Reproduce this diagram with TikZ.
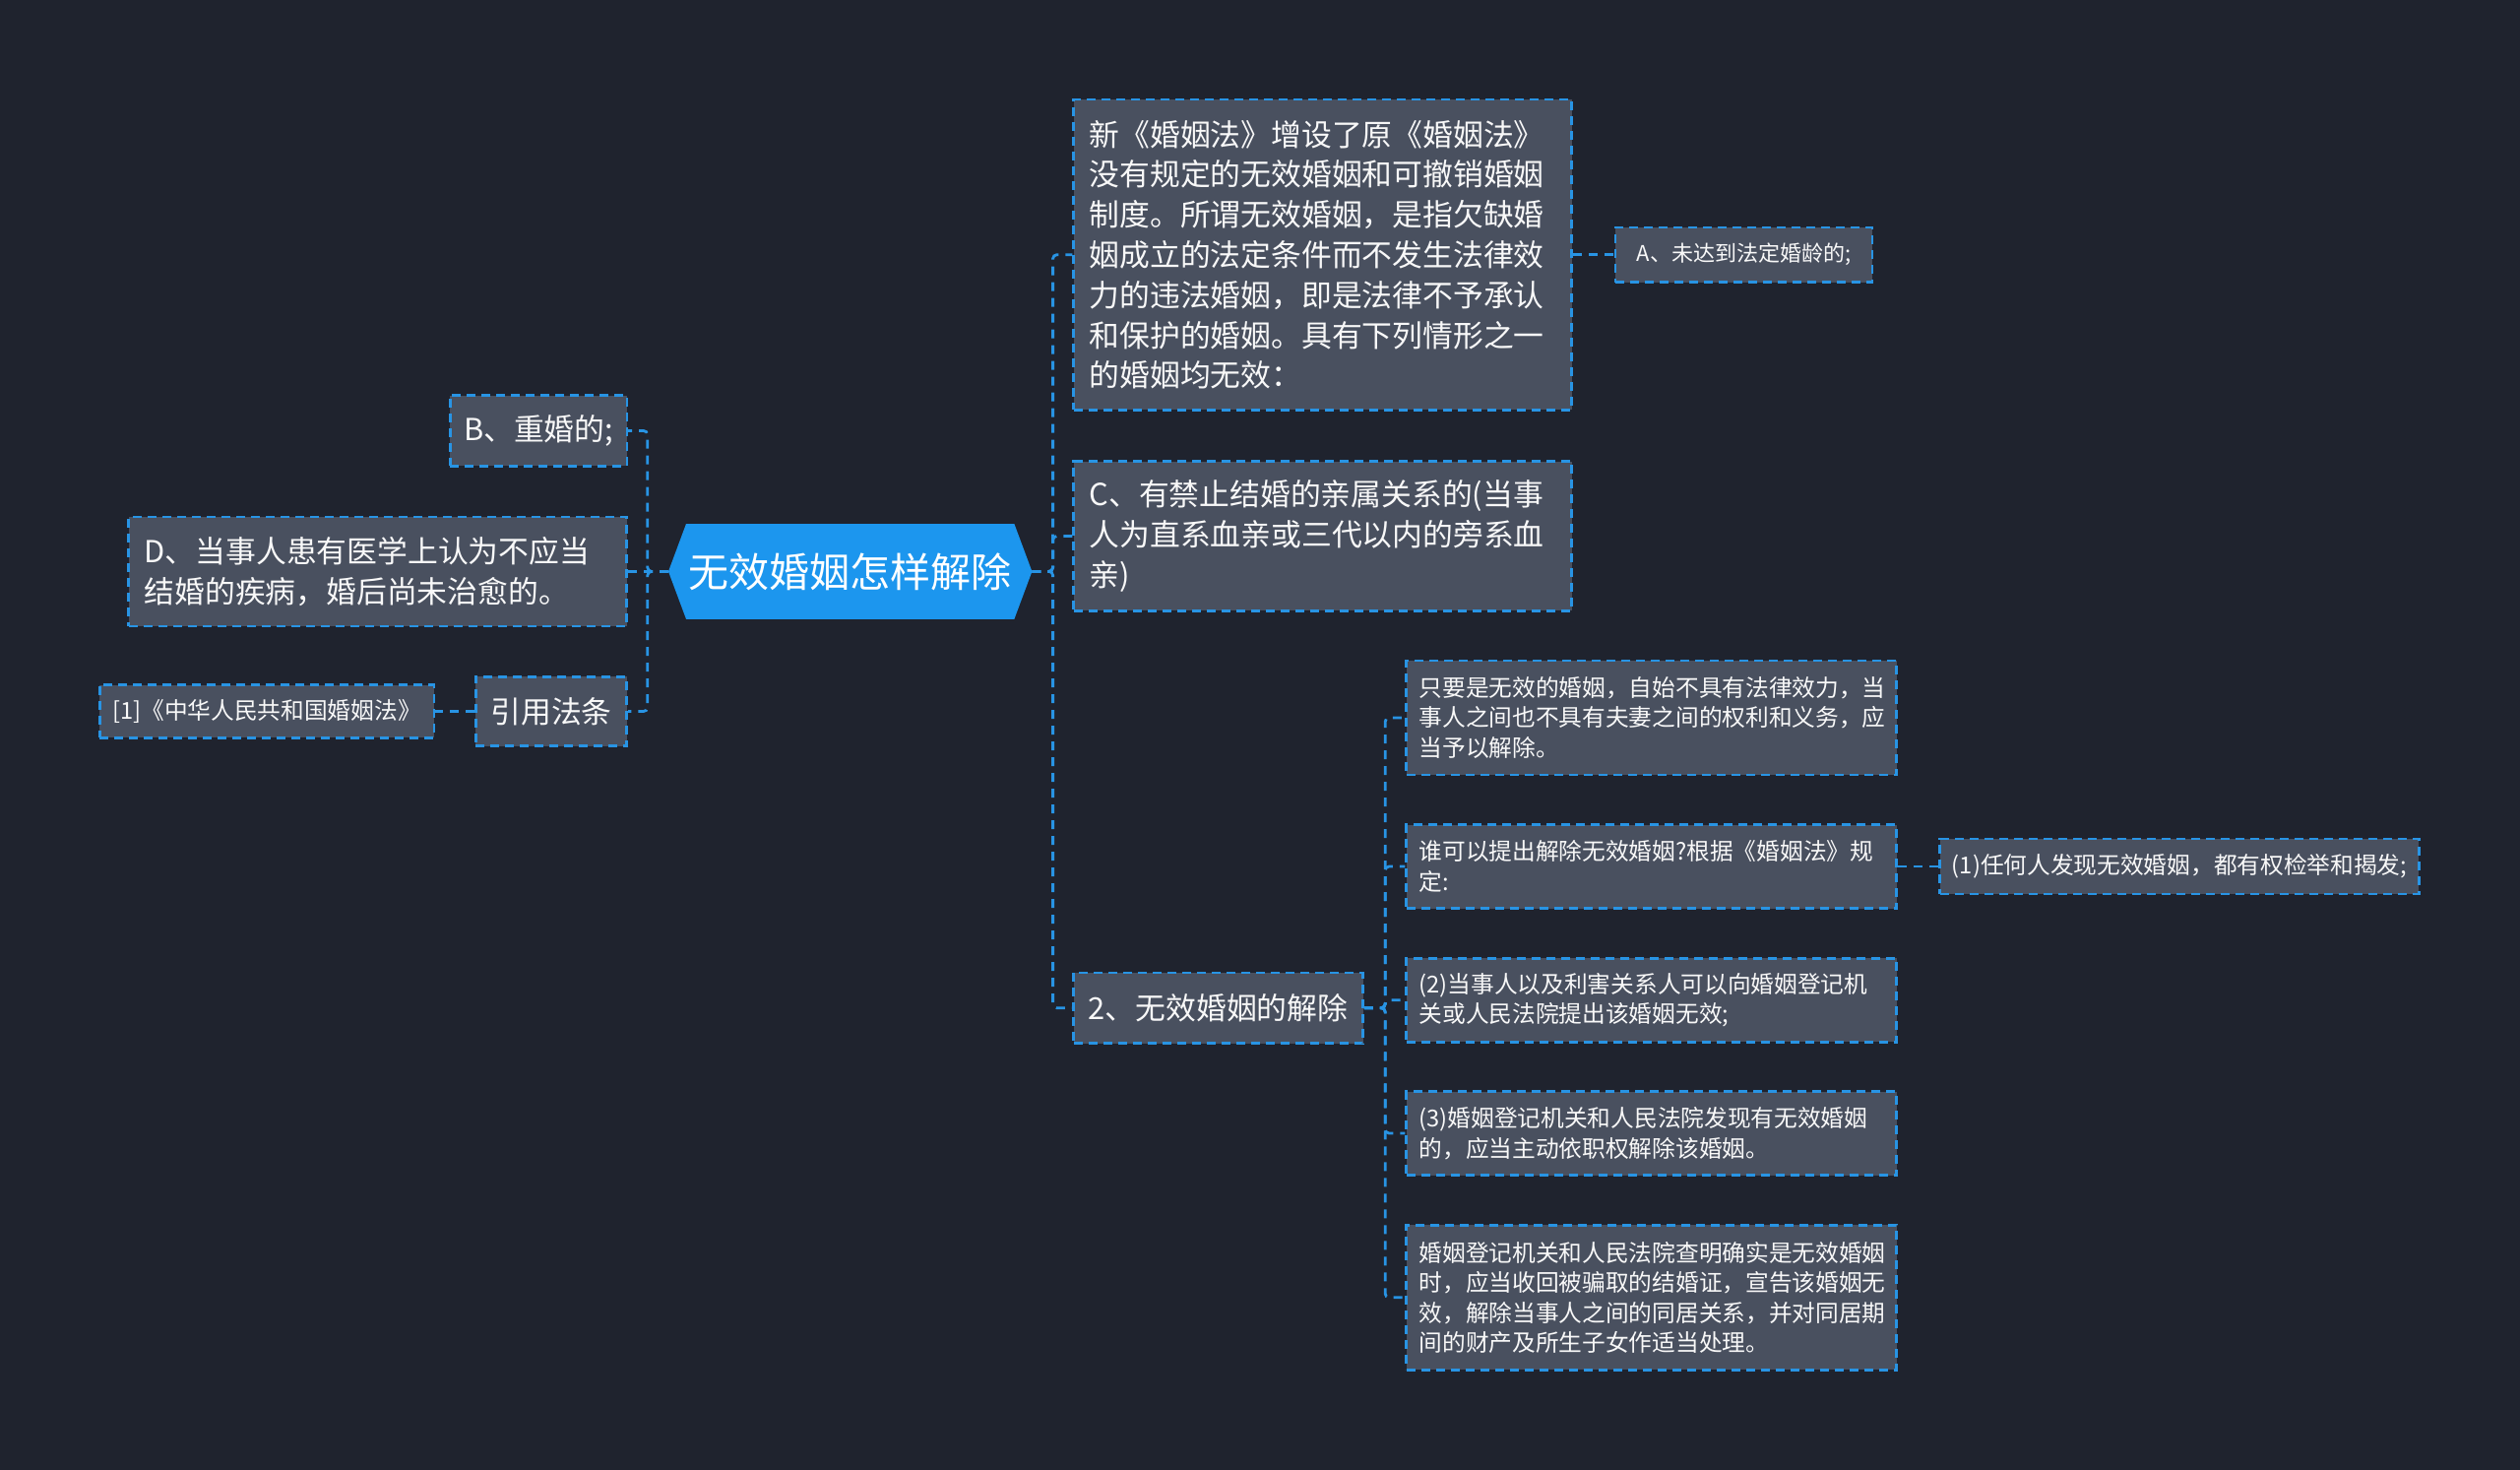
\documentclass[tikz,border=0pt]{standalone}
\usepackage{fontspec}
\setmainfont{Noto Sans CJK SC}
\definecolor{bgc}{RGB}{31,35,46}
\definecolor{boxc}{RGB}{73,80,95}
\definecolor{linec}{RGB}{40,148,228}
\definecolor{rootc}{RGB}{28,150,238}
\definecolor{txtc}{RGB}{248,248,248}
\pgfdeclarelayer{canvas}
\pgfdeclarelayer{hexlayer}
\pgfsetlayers{canvas,hexlayer,main}
\tikzset{
  conn/.style={draw=linec, line width=2.8pt, dash pattern=on 9pt off 7pt, rounded corners=4pt},
  boxn/.style={draw=linec, fill=boxc, line width=2.6pt, dash pattern=on 9pt off 6pt, text=txtc, inner ysep=0pt, anchor=center},
  multi/.style={align=left},
  single/.style={align=center, inner xsep=0pt},
  big/.style={font=\fontsize{30.8}{40.8}\selectfont},
  small/.style={font=\fontsize{23.7}{30.5}\selectfont},
  tiny/.style={font=\fontsize{22}{28}\selectfont},
  rootn/.style={text=white, font=\fontsize{41}{48}\selectfont, inner sep=0pt, minimum width=369pt, minimum height=96.3pt},
}
\begin{document}
\begin{tikzpicture}[x=1pt, y=-1pt]
\begin{pgfonlayer}{canvas}
  \fill[bgc] (0,0) rectangle (2560,1493);
\end{pgfonlayer}
\useasboundingbox (0,0) rectangle (2560,1493);

% root
\node[rootn] (root) at (863.7,580.4) {无效婚姻怎样解除};
\begin{pgfonlayer}{hexlayer}
  \fill[rootc] ([xshift=18pt]root.north west) -- ([xshift=-18pt]root.north east) -- (root.east)
    -- ([xshift=-18pt]root.south east) -- ([xshift=18pt]root.south west) -- (root.west) -- cycle;
\end{pgfonlayer}

% right side
\node[boxn, multi, big, text width=474pt, inner xsep=16pt, minimum height=315.3pt] (top) at (1343.7,258.7)
 {新《婚姻法》增设了原《婚姻法》\\没有规定的无效婚姻和可撤销婚姻\\制度。所谓无效婚姻，是指欠缺婚\\姻成立的法定条件而不发生法律效\\力的违法婚姻，即是法律不予承认\\和保护的婚姻。具有下列情形之一\\的婚姻均无效：};
\node[boxn, single, tiny, minimum width=261pt, minimum height=55.6pt] (A) at (1771.5,258.7) {A、未达到法定婚龄的;};
\node[boxn, multi, big, text width=474pt, inner xsep=16pt, minimum height=151.8pt] (C) at (1343.7,544.5)
 {C、有禁止结婚的亲属关系的(当事\\人为直系血亲或三代以内的旁系血\\亲)};
\node[boxn, single, big, minimum width=293.9pt, minimum height=71.8pt] (two) at (1237.6,1023.7) {2、无效婚姻的解除};

\node[boxn, multi, small, text width=472pt, inner xsep=13pt, minimum height=116pt] (s1) at (1677.6,729)
 {只要是无效的婚姻，自始不具有法律效力，当\\事人之间也不具有夫妻之间的权利和义务，应\\当予以解除。};
\node[boxn, multi, small, text width=472pt, inner xsep=13pt, minimum height=85pt] (s2) at (1677.6,880)
 {谁可以提出解除无效婚姻?根据《婚姻法》规\\定:};
\node[boxn, multi, small, text width=472pt, inner xsep=13pt, minimum height=85pt] (s3) at (1677.6,1015.7)
 {(2)当事人以及利害关系人可以向婚姻登记机\\关或人民法院提出该婚姻无效;};
\node[boxn, multi, small, text width=472pt, inner xsep=13pt, minimum height=85pt] (s4) at (1677.6,1151)
 {(3)婚姻登记机关和人民法院发现有无效婚姻\\的，应当主动依职权解除该婚姻。};
\node[boxn, multi, small, text width=472pt, inner xsep=13pt, minimum height=147pt] (s5) at (1677.6,1317.8)
 {婚姻登记机关和人民法院查明确实是无效婚姻\\时，应当收回被骗取的结婚证，宣告该婚姻无\\效，解除当事人之间的同居关系，并对同居期\\间的财产及所生子女作适当处理。};
\node[boxn, single, small, minimum width=486.5pt, minimum height=55.8pt] (p1) at (2214,880) {(1)任何人发现无效婚姻，都有权检举和揭发;};

% left side
\node[boxn, single, big, minimum width=179.6pt, minimum height=71.9pt] (B) at (547,437.5) {B、重婚的;};
\node[boxn, multi, big, text width=474pt, inner xsep=16pt, minimum height=111pt] (D) at (383.7,580.4)
 {D、当事人患有医学上认为不应当\\结婚的疾病，婚后尚未治愈的。};
\node[boxn, single, big, minimum width=153.5pt, minimum height=70.2pt] (yin) at (560,722.5) {引用法条};
\node[boxn, single, small, minimum width=339.6pt, minimum height=53.9pt] (ref) at (271,722.5) {[1]《中华人民共和国婚姻法》};

% connectors right
\draw[conn] (root.east) -- ++(21.2,0) |- (top.west);
\draw[conn] (root.east) -- ++(21.2,0) |- (C.west);
\draw[conn] (root.east) -- ++(21.2,0) |- (two.west);
\draw[conn] (top.east) -- (A.west);
\draw[conn] (two.east) -- ++(21.3,0) |- (s1.west);
\draw[conn] (two.east) -- ++(21.3,0) |- (s2.west);
\draw[conn] (two.east) -- ++(21.3,0) |- (s3.west);
\draw[conn] (two.east) -- ++(21.3,0) |- (s4.west);
\draw[conn] (two.east) -- ++(21.3,0) |- (s5.west);
\draw[conn] (s2.east) -- (p1.west);

% connectors left
\draw[conn] (root.west) -- ++(-21.2,0) |- (B.east);
\draw[conn] (root.west) -- (D.east);
\draw[conn] (root.west) -- ++(-21.2,0) |- (yin.east);
\draw[conn] (yin.west) -- (ref.east);
\end{tikzpicture}
\end{document}
